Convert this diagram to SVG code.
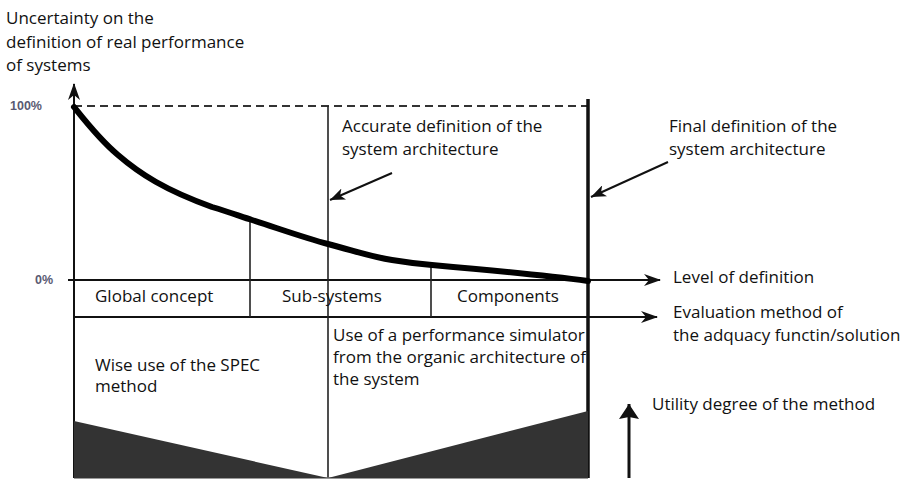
<svg xmlns="http://www.w3.org/2000/svg" width="903" height="481" viewBox="0 0 903 481">
<defs>
<style>
.t{font-family:"Open Sans","Liberation Sans",sans-serif;font-size:17px;fill:#111}
.pc{font-family:"Liberation Sans",sans-serif;font-size:12.5px;font-weight:bold;fill:#5a5a72}
.ax{stroke:#111;stroke-width:2;fill:none}
.thin{stroke:#222;stroke-width:1.6;fill:none}
</style>
<marker id="ah" markerWidth="18" markerHeight="12" refX="16" refY="6" orient="auto" markerUnits="userSpaceOnUse">
<path d="M0,0 L17,6 L0,12 L5,6 z" fill="#111"/>
</marker>
<marker id="uh" markerWidth="16" markerHeight="22" refX="15" refY="11" orient="auto" markerUnits="userSpaceOnUse">
<path d="M0,1 L15,11 L0,21 L2,11 z" fill="#111"/>
</marker>
<marker id="dh" markerWidth="16" markerHeight="12" refX="15" refY="6" orient="auto" markerUnits="userSpaceOnUse">
<path d="M0,0 L15,6 L0,12 L4,6 z" fill="#111"/>
</marker>
</defs>
<rect width="903" height="481" fill="#fff"/>

<g id="axis-labels">
<text class="t" x="6" y="24" font-size="17.5">Uncertainty on the</text>
<text class="t" x="6" y="48" font-size="17.5">definition of real performance</text>
<text class="t" x="6" y="71" font-size="17.5">of systems</text>
<text class="pc" x="10" y="110">100%</text>
<text class="pc" x="35" y="284">0%</text>
</g>

<g id="connectors">
<line class="ax" x1="74" y1="478" x2="74" y2="84" marker-end="url(#ah)"/>
<line x1="74" y1="106" x2="588" y2="106" stroke="#333" stroke-width="2" stroke-dasharray="8,5"/>
<line class="ax" x1="68" y1="280" x2="660" y2="280" marker-end="url(#ah)"/>
<line class="ax" x1="74" y1="317" x2="657" y2="317" marker-end="url(#ah)"/>
<line class="thin" x1="250" y1="221" x2="250" y2="317"/>
<line class="thin" x1="328" y1="106" x2="328" y2="478"/>
<line class="thin" x1="431" y1="264" x2="431" y2="317"/>
<line x1="588" y1="99" x2="588" y2="478" stroke="#111" stroke-width="3.5"/>
<line x1="74" y1="478" x2="588" y2="478" stroke="#777" stroke-width="1.5"/>
<line x1="392" y1="173" x2="330" y2="200" stroke="#111" stroke-width="2" marker-end="url(#dh)"/>
<line x1="668" y1="162" x2="591" y2="197" stroke="#111" stroke-width="2" marker-end="url(#dh)"/>
<line x1="629" y1="478" x2="629" y2="404" stroke="#111" stroke-width="3" marker-end="url(#uh)"/>
<path d="M74,107 C86,122 100,140 118,155 C140,174 165,190 212,207 C232,213 242,217 252,220 C280,229 305,238 328,244 C355,251 372,257 392,260 C410,263 420,264 432,265 C500,271 550,276 588,281" fill="none" stroke="#000" stroke-width="6" stroke-linecap="round" stroke-linejoin="round"/>
</g>

<g id="utility-areas">
<polygon points="74,421 328,478 74,478" fill="#333"/>
<polygon points="328,478 588,411 588,478" fill="#333"/>
</g>

<g id="phases">
<text class="t" x="95" y="302">Global concept</text>
<text class="t" x="282" y="302">Sub-systems</text>
<text class="t" x="457" y="302">Components</text>
</g>

<g id="accurate-label">
<text class="t" x="342" y="132">Accurate definition of the</text>
<text class="t" x="342" y="155">system architecture</text>
</g>

<g id="final-label">
<text class="t" x="669" y="132">Final definition of the</text>
<text class="t" x="669" y="155">system architecture</text>
</g>

<g id="level-label">
<text class="t" x="673" y="283">Level of definition</text>
</g>

<g id="evaluation-label">
<text class="t" x="673" y="318">Evaluation method of</text>
<text class="t" x="673" y="341">the adquacy functin/solution</text>
</g>

<g id="spec-method">
<text class="t" x="95" y="371">Wise use of the SPEC</text>
<text class="t" x="95" y="392">method</text>
</g>

<g id="simulator-method">
<text class="t" x="333" y="341">Use of a performance simulator</text>
<text class="t" x="333" y="363">from the organic architecture of</text>
<text class="t" x="333" y="385">the system</text>
</g>

<g id="utility-label">
<text class="t" x="652" y="410">Utility degree of the method</text>
</g>
</svg>
